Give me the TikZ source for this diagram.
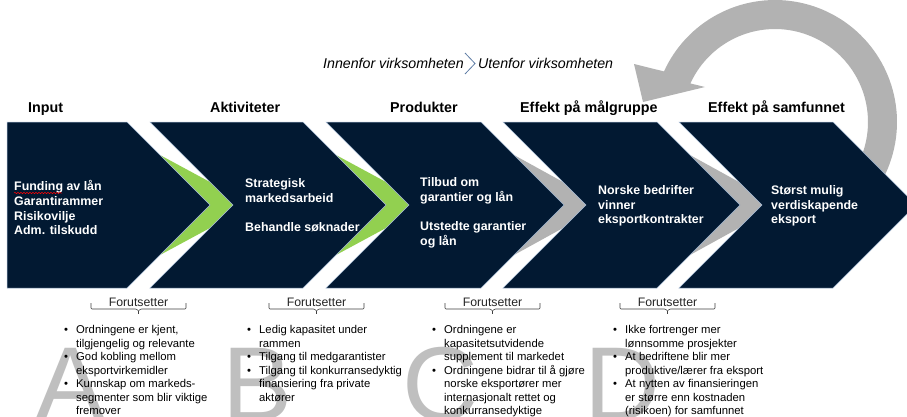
\documentclass[tikz,border=0pt]{standalone}
\usepackage{fontspec}
\setmainfont{Liberation Sans}
\usetikzlibrary{decorations.pathmorphing}
\definecolor{navy}{RGB}{2,25,50}
\definecolor{chevgreen}{RGB}{146,208,80}
\definecolor{chevgrey}{RGB}{178,178,178}
\definecolor{arrowgrey}{RGB}{178,178,178}
\definecolor{bigletter}{RGB}{191,191,191}
\definecolor{edgeblue}{RGB}{170,190,215}
\definecolor{divblue}{RGB}{95,125,165}
\newcommand\bl{\makebox[12pt][l]{\textbullet}}
\newcommand\ind{\hspace*{12pt}}
\begin{document}
\begin{tikzpicture}[x=1pt,y=-1pt,
  chev/.style={fill=navy,draw=edgeblue,line width=0.5pt},
  hdr/.style={font=\bfseries\fontsize{14.3}{16}\selectfont,anchor=base west,inner sep=0pt},
  itl/.style={font=\itshape\fontsize{14.2}{17}\selectfont,anchor=base west,inner sep=0pt},
  chtext/.style={font=\bfseries\fontsize{12.4}{14.6}\selectfont,text=white,align=left,anchor=north west,inner sep=0pt},
  bultext/.style={font=\fontsize{11.3}{13.5}\selectfont,align=left,anchor=north west,inner sep=0pt},
  flabel/.style={font=\fontsize{12.3}{14}\selectfont,text=black!85,anchor=base,inner sep=0pt},
  brk/.style={draw=black!75,line width=0.6pt,rounded corners=1pt},
  bigl/.style={font=\fontsize{105}{105}\selectfont,text=bigletter,anchor=base west,inner sep=0pt}]
\useasboundingbox (0,0) rectangle (907,416);
\fill[white] (0,0) rectangle (907,416);
\clip (0,0) rectangle (907,416);

% big background letters
\node[bigl] (LA) at (35,420) {A};
\node[bigl] (LB) at (222,420) {B};
\node[bigl] (LC) at (402,420) {C};
\node[bigl] (LD) at (584,420) {D};

% circular arrow
\fill[arrowgrey] plot[domain=0:184.5,samples=80] ({775+122*cos(29-\x)},{122+122*sin(29-\x)})
  -- (634,64) -- (643,102) -- (705,87)
  -- plot[domain=0:184.5,samples=80] ({775+93*cos(-155.5+\x)},{122+93*sin(-155.5+\x)}) -- cycle;

% coloured fills in the gaps
\foreach \xr/\xl/\c in {127/150/chevgreen,303/326/chevgreen,481/503/chevgrey,657/679/chevgrey}{
  \fill[\c] ({\xr+33},155) -- ({\xl+60},182) -- ({\xl+83},205) -- ({\xl+60},228)
    -- ({\xr+33},255) -- ({\xr+83},205) -- cycle;
}

% chevrons
\path[chev] (7,122) -- (127,122) -- (210,205) -- (127,288) -- (7,288) -- cycle;
\foreach \xl/\xr in {150/303,326/481,503/657,679/833}{
  \path[chev] (\xl,122) -- (\xr,122) -- ({\xr+83},205) -- (\xr,288) -- (\xl,288) -- ({\xl+83},205) -- cycle;
}

% headers
\node[hdr] (hInput) at (28,112.5) {Input};
\node[hdr] (hAkt) at (210,112.5) {Aktiviteter};
\node[hdr] (hProd) at (390,112.5) {Produkter};
\node[hdr] (hMaal) at (520,112.5) {Effekt på målgruppe};
\node[hdr] (hSamf) at (708,112.5) {Effekt på samfunnet};

% inside / outside
\node[itl] (inn) at (323,68) {Innenfor virksomheten};
\node[itl] (ute) at (478,68) {Utenfor virksomheten};
\draw[divblue,line width=0.8pt] (465,53) -- (475,63.5) -- (465,74);

% chevron texts
\node[chtext] (t1) at (14,180.5) {Funding av lån\\Garantirammer\\Risikovilje\\Adm. tilskudd};
\draw[red,line width=0.5pt,decorate,decoration={snake,amplitude=0.7pt,segment length=3pt}] (14,193) -- (62,193);
\node[chtext] (t2) at (245,178.5) {Strategisk\\markedsarbeid\\~\\Behandle søknader};
\node[chtext] (t3) at (420,177.5) {Tilbud om\\garantier og lån\\~\\Utstedte garantier\\og lån};
\node[chtext] (t4) at (598,185.5) {Norske bedrifter\\vinner\\eksportkontrakter};
\node[chtext] (t5) at (771,185.5) {Størst mulig\\verdiskapende\\eksport};

% brackets
\foreach \a/\b/\c/\n in {91/186/138.5/A,269/364/316.5/B,445/540/492.5/C,620/715/667.5/D}{
  \draw[brk] (\a,303) -- (\a,309) -- ({\c-2},309) -- (\c,311) -- ({\c+2},309) -- (\b,309) -- (\b,303);
  \draw[brk] (\c,311) -- (\c,314);
  \node[flabel] (f\n) at (\c,306.4) {Forutsetter};
}

% bullet lists
\node[bultext] (bA) at (64,325.3) {\bl Ordningene er kjent,\\\ind tilgjengelig og relevante\\\bl God kobling mellom\\\ind eksportvirkemidler\\\bl Kunnskap om markeds-\\\ind segmenter som blir viktige\\\ind fremover};
\node[bultext] (bB) at (247,325.3) {\bl Ledig kapasitet under\\\ind rammen\\\bl Tilgang til medgarantister\\\bl Tilgang til konkurransedyktig\\\ind finansiering fra private\\\ind aktører};
\node[bultext] (bC) at (432,325.3) {\bl Ordningene er\\\ind kapasitetsutvidende\\\ind supplement til markedet\\\bl Ordningene bidrar til å gjøre\\\ind norske eksportører mer\\\ind internasjonalt rettet og\\\ind konkurransedyktige};
\node[bultext] (bD) at (613,325.3) {\bl Ikke fortrenger mer\\\ind lønnsomme prosjekter\\\bl At bedriftene blir mer\\\ind produktive/lærer fra eksport\\\bl At nytten av finansieringen\\\ind er større enn kostnaden\\\ind (risikoen) for samfunnet};
\end{tikzpicture}
\end{document}
